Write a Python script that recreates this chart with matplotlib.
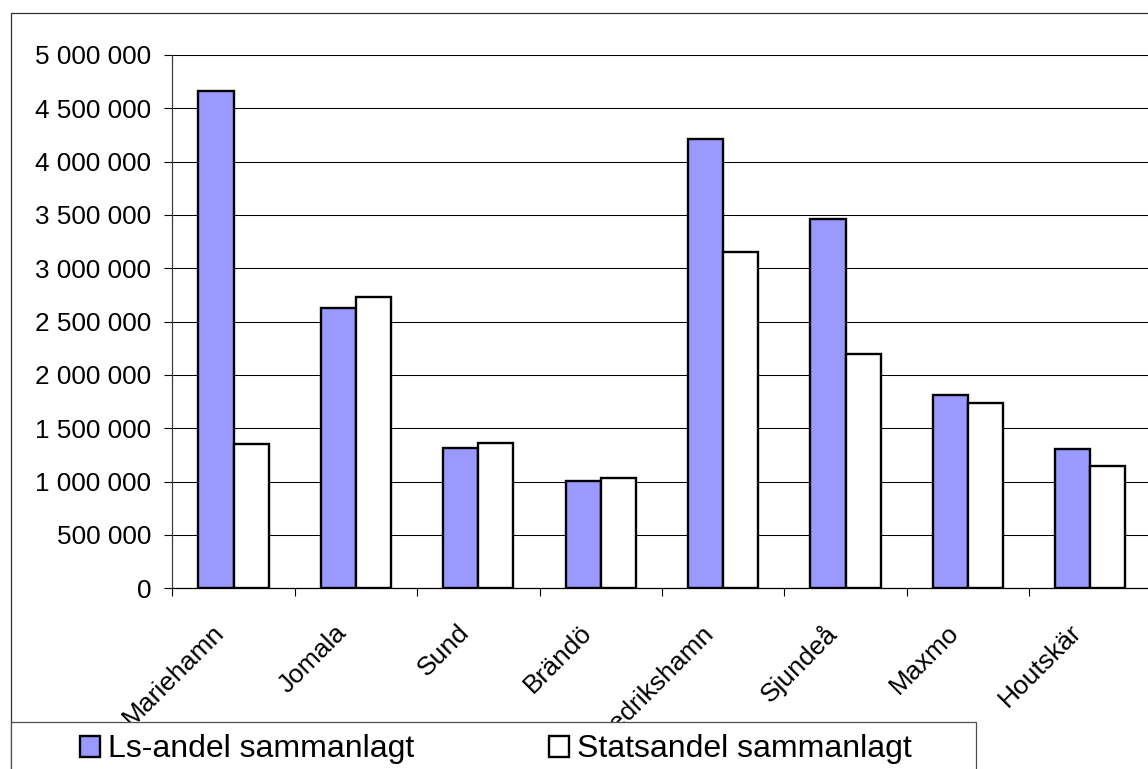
import matplotlib
matplotlib.use("Agg")
import matplotlib.pyplot as plt
import matplotlib.transforms as mtransforms
from matplotlib.patches import Rectangle
import numpy as np

plt.rcParams['font.family'] = ['Liberation Sans', 'DejaVu Sans']

# data
kommuner = ['Mariehamn', 'Jomala', 'Sund', 'Brändö', 'Fredrikshamn',
            'Sjundeå', 'Maxmo', 'Houtskär']
ls_andel = [4664000, 2627000, 1312000, 1003000, 4211000, 3464000, 1812000, 1306000]
statsandel = [1350000, 2727000, 1359000, 1037000, 3155000, 2193000, 1734000, 1149000]
serier = ['Ls-andel sammanlagt', 'Statsandel sammanlagt']
y_ticks = np.arange(0, 5000001, 500000)

W, H = 1148, 769
fig = plt.figure(figsize=(W / 100, H / 100), dpi=100)

# outer chart frame (runs off the right/bottom edge like the original)
fig.patches.append(Rectangle((10.5 / W, -0.1), 1.2, 1 - 13.3 / H + 0.1,
                             transform=fig.transFigure, fill=False,
                             edgecolor='#303030', linewidth=0.9, zorder=0))

ax = fig.add_axes([172.3 / W, (H - 588.3) / H, 979.2 / W, 533.3 / H])
x = np.arange(len(kommuner))
bw = 0.286
b1 = ax.bar(x - bw / 2, ls_andel, bw, color='#9999FF', edgecolor='black',
            linewidth=1.7, zorder=3, label=serier[0])
b2 = ax.bar(x + bw / 2, statsandel, bw, color='white', edgecolor='black',
            linewidth=1.7, zorder=3, label=serier[1])

ax.set_xlim(-0.5, len(kommuner) - 0.5)
ax.set_ylim(0, 5000000)
ax.set_yticks(y_ticks)
ax.set_yticklabels([f'{v:,.0f}'.replace(',', ' ') for v in y_ticks], fontsize=18.8)
ax.yaxis.grid(True, color='black', linewidth=0.75, zorder=0)
ax.set_axisbelow(True)

ax.set_xticks(x)
ax.set_xticks(np.arange(-0.5, len(kommuner)), minor=True)
ax.set_xticklabels(kommuner, fontsize=19, rotation=45, ha='right',
                   va='center', rotation_mode='anchor')
ax.tick_params(axis='x', which='major', length=0, pad=29)
ax.tick_params(axis='x', which='minor', length=5.8, width=0.8, direction='out')
ax.tick_params(axis='y', length=5.8, width=0.8, direction='out', pad=9.4)
shift = mtransforms.ScaledTranslation(-13 / 100, 0, fig.dpi_scale_trans)
for lab in ax.get_xticklabels():
    lab.set_transform(lab.get_transform() + shift)

for side in ['top', 'right']:
    ax.spines[side].set_visible(False)
ax.spines['left'].set_color('#404040')
ax.spines['left'].set_linewidth(0.9)
ax.spines['bottom'].set_color('black')
ax.spines['bottom'].set_linewidth(0.9)

# legend box covering the lower part (hides part of one label, as in original)
fig.patches.append(Rectangle((10.5 / W, -0.1), (976 - 10.5) / W, 1 - 721.7 / H + 0.1,
                             transform=fig.transFigure, facecolor='white',
                             edgecolor='#505050', linewidth=0.9, zorder=4))
fig.legend(handles=[b1, b2], labels=serier, loc='center left',
           bbox_to_anchor=(80 / W, 1 - 749.5 / H), ncol=2, frameon=False,
           fontsize=23, borderpad=0, borderaxespad=0, handlelength=0.63,
           handleheight=0.63, handletextpad=0.25, columnspacing=4.2)

fig.savefig('out.png', dpi=100)
